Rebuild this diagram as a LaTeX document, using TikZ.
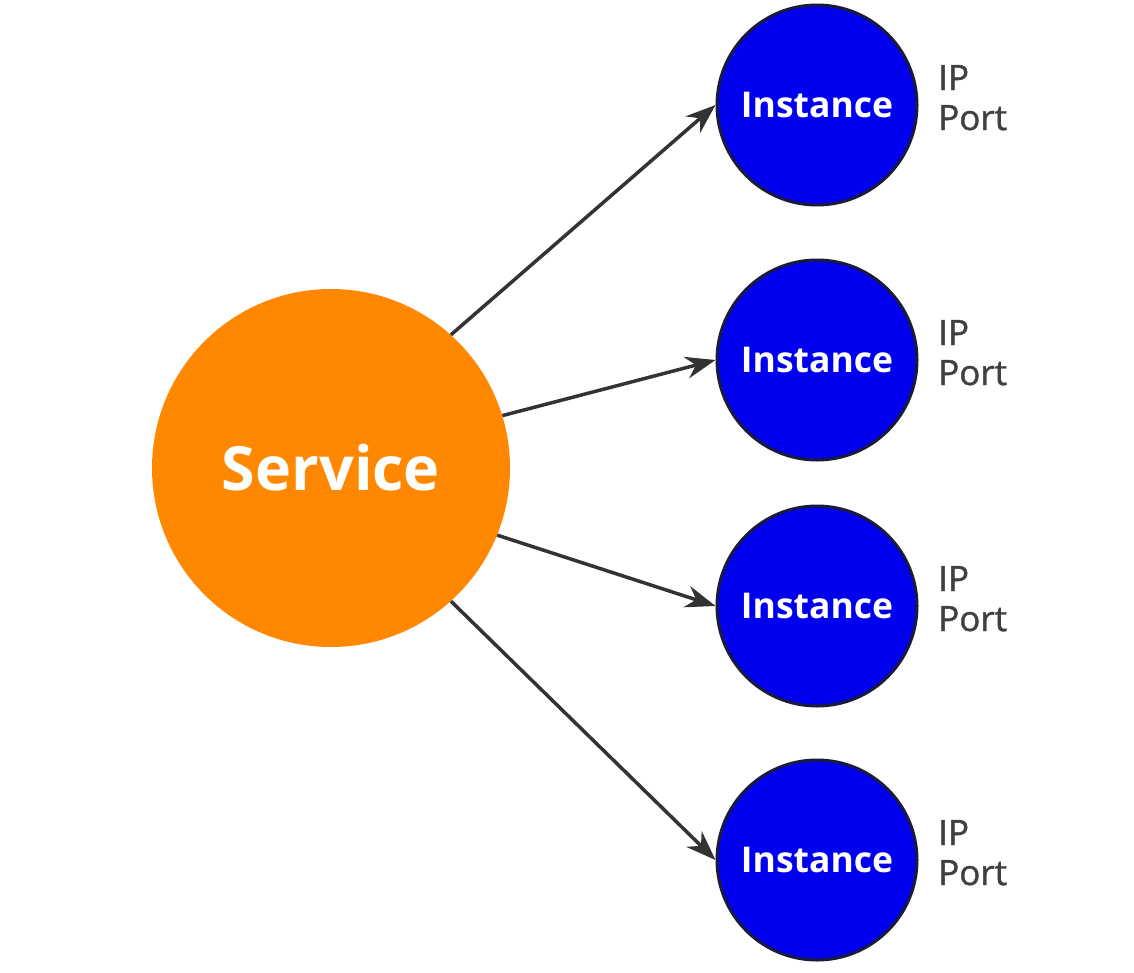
\documentclass[tikz,border=0pt]{standalone}
\usepackage{fontspec}
\setmainfont{Open Sans}
\newfontfamily\lblfont[FakeBold=1.2]{Open Sans}
\usetikzlibrary{arrows.meta}
\definecolor{svcorange}{HTML}{FF8800}
\definecolor{instblue}{HTML}{0000EE}
\definecolor{instedge}{HTML}{1A1A3A}
\definecolor{arrowgray}{HTML}{333333}
\definecolor{labelgray}{HTML}{404040}
\tikzset{
  svc/.style={circle, fill=svcorange, draw=none, minimum size=358pt, inner sep=0pt,
    text=white, font=\fontsize{61}{70}\selectfont\bfseries},
  inst/.style={circle, fill=instblue, draw=instedge, line width=3pt, minimum size=200pt, inner sep=0pt,
    text=white, font=\fontsize{35.5}{40}\selectfont\bfseries},
  lbl/.style={anchor=base west, inner sep=0pt, text=labelgray, font=\fontsize{35}{40}\lblfont},
  conn/.style={draw=arrowgray, line width=3.5pt, -{Stealth[length=30pt,width=22pt]}}
}
\begin{document}
\begin{tikzpicture}[x=1pt,y=-1pt]
\useasboundingbox (0,0) rectangle (1134,972);
\node[svc] (s) at (331,468) {Service};
\node[inst] (i1) at (817,105) {Instance};
\node[inst] (i2) at (817,360) {Instance};
\node[inst] (i3) at (817,606) {Instance};
\node[inst] (i4) at (817,860) {Instance};
\foreach \n/\y in {1/105,2/360,3/606,4/860}{
  \node[lbl] (ip\n) at (938,\y-15) {IP};
  \node[lbl] (port\n) at (938,\y+25) {Port};
}
\draw[conn] (s.48) -- (i1.west);
\draw[conn] (s.17) -- (i2.west);
\draw[conn] (s.-22) -- (i3.west);
\draw[conn] (s.-48) -- (i4.west);
\end{tikzpicture}
\end{document}
